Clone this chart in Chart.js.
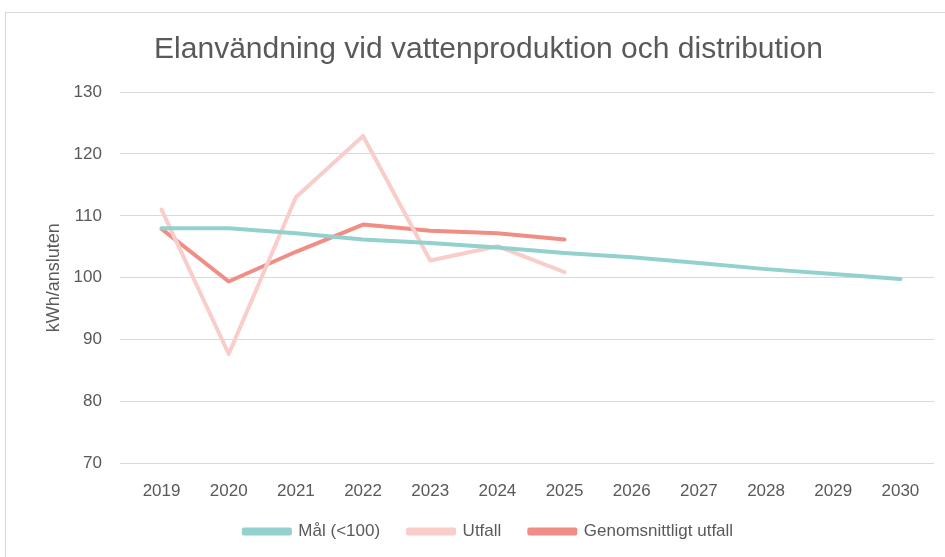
<!DOCTYPE html>
<html><head><meta charset="utf-8">
<script src="https://cdn.jsdelivr.net/npm/chart.js@4"></script>
<style>
html,body{margin:0;padding:0;background:#fff;overflow:hidden;}
#box{position:absolute;left:5px;top:12px;width:945px;height:560px;border:1px solid #d9d9d9;box-sizing:border-box;}
#wrap{position:absolute;left:0;top:0;width:928px;height:554px;}
</style></head><body>
<div id="box"><div id="wrap"><canvas id="c"></canvas></div></div>
<script>
const years=["2019","2020","2021","2022","2023","2024","2025","2026","2027","2028","2029","2030"];
const mal=[108,108,107.2,106.2,105.6,104.9,104,103.3,102.4,101.4,100.6,99.8];
const utfall=[111,87.7,113,122.9,102.8,105.1,100.9,null,null,null,null,null];
const snitt=[107.9,99.4,104.2,108.6,107.6,107.2,106.2,null,null,null,null,null];
const txt="#595959",font="'Liberation Sans',sans-serif";
// pull the legend row a bit closer to the axis labels
const legendUp={id:"legendUp",afterLayout(c){c.legend.top-=17;c.legend.bottom-=17;}};
new Chart(document.getElementById("c"),{type:"line",
  data:{labels:years,datasets:[
    {label:"Mål (<100)",data:mal,borderColor:"#92d1cd",backgroundColor:"#92d1cd"},
    {label:"Utfall",data:utfall,borderColor:"#f8cdca",backgroundColor:"#f8cdca"},
    {label:"Genomsnittligt utfall",data:snitt,borderColor:"#f08e86",backgroundColor:"#f08e86"}]},
  options:{responsive:true,maintainAspectRatio:false,animation:false,
    layout:{padding:{left:37,right:0,top:8,bottom:0}},
    elements:{line:{borderWidth:4,tension:0,borderCapStyle:"round",borderJoinStyle:"round"},point:{radius:0}},
    plugins:{
      title:{display:true,text:"Elanvändning vid vattenproduktion och distribution",color:txt,font:{family:font,size:30,weight:"normal"},padding:{top:11,bottom:24}},
      legend:{position:"bottom",labels:{color:txt,font:{family:font,size:17},boxWidth:46,boxHeight:4,padding:28}},
      tooltip:{enabled:false}},
    scales:{
      x:{offset:true,grid:{display:false},border:{color:"#d9d9d9"},ticks:{color:txt,font:{family:font,size:17},padding:10}},
      y:{min:70,max:130,ticks:{stepSize:10,color:txt,font:{family:font,size:17},padding:18},
        grid:{color:"#d9d9d9"},border:{display:false},
        title:{display:true,text:"kWh/ansluten",color:txt,font:{family:font,size:18},padding:{top:0,bottom:-9}}}}},
  plugins:[legendUp]});
</script></body></html>
